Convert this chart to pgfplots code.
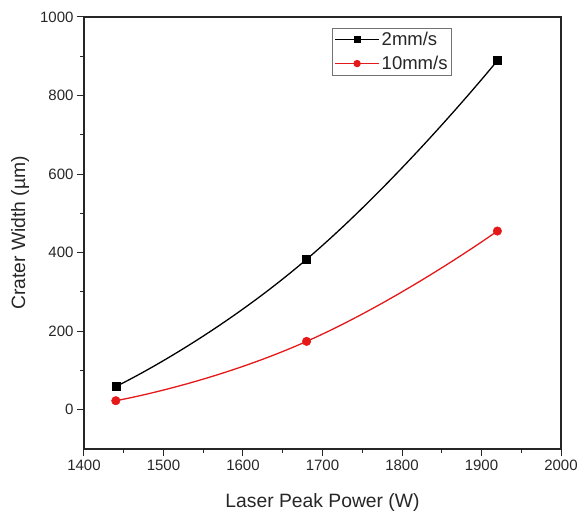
\documentclass[border=0pt]{standalone}
\usepackage{fontspec}
\setmainfont{Liberation Sans}
\usepackage{pgfplots}
\pgfplotsset{compat=1.18}
\definecolor{txt}{gray}{0.15}
\definecolor{ored}{rgb}{0.9,0.1,0.1}
\begin{document}
\begin{tikzpicture}
\begin{axis}[
  name=ax,
  scale only axis,
  width=477pt,
  height=432pt,
  xmin=1400, xmax=2000,
  ymin=-100, ymax=1000,
  xtick={1400,1500,...,2000},
  ytick={0,200,...,1000},
  minor x tick num=1,
  minor y tick num=1,
  tick align=outside,
  xtick pos=bottom,
  ytick pos=left,
  major tick length=7pt,
  minor tick length=4pt,
  tick style={black!85, line width=1pt},
  axis line style={black!85, line width=1.1pt},
  /pgf/number format/assume math mode=true,
  /pgf/number format/set thousands separator={},
  tick label style={font=\fontsize{15}{17}\selectfont, text=txt},
  xlabel={Laser Peak Power (W)},
  ylabel={Crater Width (µm)},
  label style={font=\fontsize{19.3}{22}\selectfont, text=txt},
  xlabel style={at={(axis description cs:0.5,-0.123)}, anchor=center},
  ylabel style={at={(axis description cs:-0.134,0.5)}, anchor=center},
  legend style={at={(axis description cs:0.52,0.975)}, anchor=north west,
    font=\fontsize{18.5}{20}\selectfont, text=txt, draw=black!55, line width=0.8pt,
    inner xsep=2pt, inner ysep=2pt, row sep=5pt},
  legend cell align=left,
  clip=false,
]
\addplot[black, line width=1.3pt, smooth, tension=0.9,
  legend image code/.code={
    \draw[black, line width=1.3pt] (0pt,0pt) -- (44pt,0pt);
    \draw[black, mark=square*, mark size=2.8pt] plot coordinates {(22pt,0pt)};
  }] coordinates {(1440,59) (1680,383) (1920,889)};
\addlegendentry{2mm/s}
\addplot[ored, line width=1.3pt, smooth, tension=0.9,
  legend image code/.code={
    \draw[ored, line width=1.3pt] (0pt,0pt) -- (44pt,0pt);
    \draw[ored, mark=*, mark size=3pt] plot coordinates {(22pt,0pt)};
  }] coordinates {(1440,23) (1680,174) (1920,455)};
\addlegendentry{10mm/s}
\addplot[black, only marks, mark=square*, mark size=4pt, forget plot]
  coordinates {(1440,59) (1680,383) (1920,889)};
\addplot[ored, only marks, mark=*, mark size=4.3pt, forget plot]
  coordinates {(1440,23) (1680,174) (1920,455)};
\draw[black!85, line width=1.1pt] (rel axis cs:0,1) -- (rel axis cs:1,1) -- (rel axis cs:1,0);
\end{axis}
\path[use as bounding box] ([shift={(-84pt,-68pt)}]ax.south west) rectangle ([shift={(23pt,17pt)}]ax.north east);
\end{tikzpicture}
\end{document}
